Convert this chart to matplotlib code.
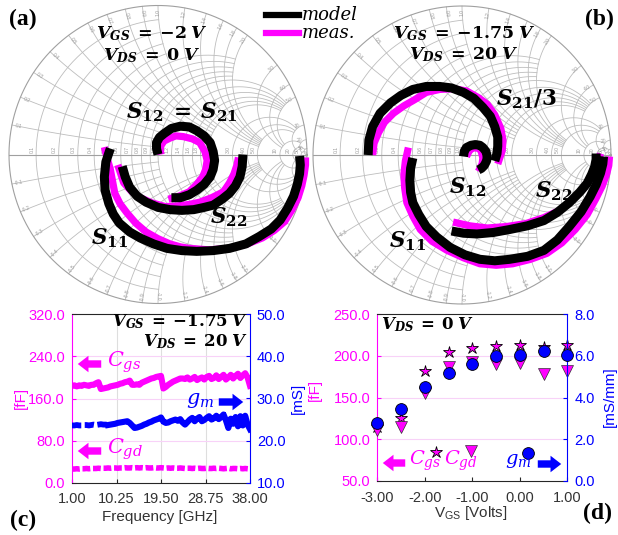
import numpy as np
import matplotlib
matplotlib.use('Agg')
import matplotlib.pyplot as plt

plt.rcParams['mathtext.fontset'] = 'custom'
plt.rcParams['mathtext.rm'] = 'DejaVu Serif'
plt.rcParams['mathtext.it'] = 'DejaVu Serif:italic'
plt.rcParams['mathtext.bf'] = 'DejaVu Serif:bold'
plt.rcParams['mathtext.bfit'] = 'DejaVu Serif:italic:bold'
plt.rcParams['font.family'] = ['Liberation Sans', 'DejaVu Sans']

# ---------------- Smith chart grid (value, extent) ----------------
grid_vals = [50, 20, 10, 5, 4, 3, 2, 1.8, 1.6, 1.4, 1.2, 1.0, 0.9, 0.8, 0.7, 0.6, 0.5, 0.4, 0.3, 0.2, 0.1]
grid_ends = [np.inf, 50, 20, 10, 10, 10, 5, 5, 5, 5, 5, 5, 2, 2, 2, 2, 2, 1, 1, 1, 1]

# ---------------- Panel (a) data: reflection coefficient (Re, Im) ----------------
a_s11_mod_re = [-0.32, -0.35, -0.36, -0.355, -0.33, -0.30, -0.26, -0.19, -0.12, -0.03, 0.06, 0.16, 0.26,
                0.37, 0.48, 0.59, 0.68, 0.76, 0.82, 0.87, 0.91, 0.935, 0.95, 0.955, 0.95]
a_s11_mod_im = [0.04, -0.05, -0.15, -0.24, -0.33, -0.40, -0.46, -0.52, -0.56, -0.60, -0.63, -0.645, -0.65,
                -0.645, -0.63, -0.60, -0.55, -0.50, -0.44, -0.36, -0.28, -0.20, -0.13, -0.07, -0.01]
a_s11_meas_re = [-0.36, -0.34, -0.32, -0.305, -0.29, -0.255, -0.21, -0.15, -0.08, 0.00, 0.08, 0.15, 0.21,
                 0.34, 0.48, 0.60, 0.70, 0.78, 0.85, 0.90, 0.94, 0.965, 0.98, 0.99, 0.99]
a_s11_meas_im = [0.05, -0.03, -0.10, -0.18, -0.26, -0.33, -0.39, -0.46, -0.52, -0.565, -0.60, -0.62, -0.63,
                 -0.64, -0.63, -0.60, -0.56, -0.51, -0.45, -0.37, -0.29, -0.21, -0.14, -0.07, -0.02]

a_s22_mod_re = [-0.24, -0.22, -0.19, -0.14, -0.08, 0.00, 0.08, 0.16, 0.24, 0.31, 0.37, 0.43, 0.48, 0.52,
                0.55, 0.565, 0.57]
a_s22_mod_im = [-0.08, -0.15, -0.22, -0.28, -0.32, -0.355, -0.37, -0.375, -0.37, -0.355, -0.34, -0.30,
                -0.26, -0.21, -0.15, -0.08, 0.00]
a_s22_meas_re = [-0.27, -0.25, -0.23, -0.18, -0.12, -0.04, 0.05, 0.13, 0.21, 0.28, 0.36, 0.44, 0.48, 0.51,
                 0.53, 0.54]
a_s22_meas_im = [-0.07, -0.13, -0.19, -0.245, -0.29, -0.325, -0.35, -0.345, -0.335, -0.32, -0.29, -0.25,
                 -0.19, -0.13, -0.07, -0.02]

a_s12_mod_re = [0.00, -0.01, -0.01, 0.01, 0.04, 0.09, 0.15, 0.21, 0.26, 0.31, 0.35, 0.37, 0.38, 0.37,
                0.35, 0.31, 0.26, 0.21, 0.15, 0.09]
a_s12_mod_im = [0.00, 0.04, 0.08, 0.115, 0.14, 0.175, 0.19, 0.185, 0.16, 0.125, 0.08, 0.02, -0.04, -0.10,
                -0.15, -0.20, -0.24, -0.27, -0.29, -0.29]
a_s12_meas_re = [0.02, 0.015, 0.02, 0.04, 0.08, 0.12, 0.17, 0.23, 0.28, 0.315, 0.33, 0.32, 0.30, 0.26,
                 0.21, 0.14, 0.07]
a_s12_meas_im = [0.00, 0.03, 0.06, 0.09, 0.11, 0.125, 0.12, 0.105, 0.08, 0.02, -0.04, -0.10, -0.15, -0.20,
                 -0.25, -0.28, -0.30]

# ---------------- Panel (b) data ----------------
b_s11_mod_re = [-0.33, -0.345, -0.35, -0.345, -0.33, -0.29, -0.24, -0.17, -0.08, 0.02, 0.12, 0.22, 0.32,
                0.44, 0.55, 0.64, 0.72, 0.80, 0.86, 0.90, 0.93, 0.945, 0.95]
b_s11_mod_im = [-0.02, -0.09, -0.17, -0.25, -0.32, -0.40, -0.48, -0.55, -0.62, -0.67, -0.70, -0.71, -0.70,
                -0.68, -0.64, -0.57, -0.48, -0.38, -0.28, -0.20, -0.12, -0.06, -0.01]
b_s11_meas_re = [-0.36, -0.38, -0.39, -0.385, -0.37, -0.33, -0.28, -0.20, -0.10, 0.01, 0.12, 0.23, 0.34,
                 0.46, 0.57, 0.67, 0.76, 0.84, 0.90, 0.94, 0.97, 0.985, 0.99]
b_s11_meas_im = [0.05, -0.04, -0.13, -0.22, -0.32, -0.41, -0.50, -0.58, -0.64, -0.69, -0.73, -0.74, -0.73,
                 -0.70, -0.66, -0.59, -0.50, -0.40, -0.29, -0.21, -0.13, -0.07, -0.01]

b_s22_mod_re = [-0.07, 0.01, 0.10, 0.21, 0.32, 0.44, 0.55, 0.64, 0.72, 0.79, 0.84, 0.87, 0.89, 0.90, 0.90]
b_s22_mod_im = [-0.51, -0.525, -0.53, -0.52, -0.50, -0.475, -0.44, -0.385, -0.32, -0.25, -0.19, -0.13,
                -0.08, -0.03, 0.01]
b_s22_meas_re = [-0.06, 0.05, 0.17, 0.30, 0.43, 0.55, 0.66, 0.74, 0.81, 0.86, 0.89, 0.915, 0.93]
b_s22_meas_im = [-0.45, -0.475, -0.49, -0.48, -0.46, -0.42, -0.37, -0.30, -0.23, -0.16, -0.10, -0.04, 0.01]

b_s21_mod_re = [-0.63, -0.625, -0.60, -0.55, -0.48, -0.41, -0.33, -0.24, -0.15, -0.07, 0.01, 0.08, 0.14,
                0.19, 0.22, 0.24, 0.24, 0.235, 0.22]
b_s21_mod_im = [0.00, 0.10, 0.19, 0.28, 0.35, 0.40, 0.44, 0.46, 0.46, 0.45, 0.42, 0.38, 0.32, 0.26, 0.19,
                0.12, 0.06, 0.01, -0.04]
b_s21_meas_re = [-0.60, -0.59, -0.56, -0.52, -0.46, -0.39, -0.32, -0.24, -0.15, -0.06, 0.03, 0.11, 0.17,
                 0.22, 0.26, 0.275, 0.27, 0.24]
b_s21_meas_im = [0.00, 0.08, 0.15, 0.22, 0.28, 0.33, 0.37, 0.42, 0.44, 0.445, 0.43, 0.385, 0.34, 0.27,
                 0.18, 0.10, 0.03, -0.06]

b_s12_mod_re = [0.01, 0.015, 0.03, 0.06, 0.09, 0.12, 0.14, 0.16, 0.17, 0.165, 0.15, 0.13, 0.11]
b_s12_mod_im = [-0.01, 0.025, 0.05, 0.065, 0.07, 0.065, 0.05, 0.025, -0.01, -0.04, -0.07, -0.09, -0.10]
b_s12_meas_re = [0.03, 0.04, 0.05, 0.07, 0.09, 0.12, 0.13, 0.14, 0.135, 0.11]
b_s12_meas_im = [-0.01, 0.01, 0.03, 0.045, 0.05, 0.04, 0.02, -0.02, -0.06, -0.11]

# ---------------- Panel (c) data ----------------
freq_ghz = np.arange(1.0, 38.01, 0.5)
cgs_ff = [184, 185, 183, 185, 184, 186, 185, 184, 186, 186,
          189, 191, 178, 179, 180, 181, 183, 184, 185, 186,
          188, 189, 191, 192, 194, 186, 186, 187, 186, 190,
          192, 194, 196, 198, 199, 201, 202, 203, 179, 182,
          186, 189, 192, 194, 196, 198, 198, 197, 200, 196,
          198, 201, 195, 198, 200, 196, 201, 203, 197, 199,
          204, 197, 201, 205, 196, 200, 205, 198, 203, 207,
          199, 204, 208, 200, 184]
gm_ms = [23.6, 23.6, 23.7, 23.6, 23.6, 23.7, 23.7, 23.6, 23.7, 23.8,
         23.7, 23.8, 23.9, 23.8, 23.8, 23.7, 23.8, 23.9, 24.0, 24.2,
         24.3, 24.4, 24.5, 24.6, 24.2, 23.6, 23.0, 23.1, 23.3, 23.5,
         23.8, 24.0, 24.3, 24.5, 24.8, 25.0, 25.2, 25.5, 24.5, 24.2,
         24.3, 24.6, 24.8, 25.0, 24.7, 25.1, 24.3, 23.8, 24.4, 25.0,
         25.4, 24.6, 25.2, 25.6, 24.6, 24.9, 25.4, 25.8, 25.0, 25.3,
         25.9, 25.1, 25.6, 26.2, 24.8, 23.0, 25.2, 24.0, 25.6, 23.4,
         25.8, 23.6, 25.9, 23.8, 22.7]
cgd_ff = [26, 26, 26.5, 26, 26.5, 26.5, 27, 26.5, 27, 27,
          27, 27.5, 27, 27.5, 27.5, 28, 27.5, 28, 28, 27.5,
          28, 28, 28.5, 28, 28, 28.5, 28, 28.5, 28, 28.5,
          28, 28.5, 28, 28, 28.5, 28, 28, 28.5, 28, 27.5,
          28, 27.5, 28, 27.5, 27.5, 28, 27.5, 27, 27.5, 27.5,
          27, 27.5, 27, 27.5, 27, 27, 27.5, 27, 27, 27.5,
          27, 27.5, 27, 26.5, 27, 27.5, 26.5, 27, 27, 26.5,
          27, 26.5, 27, 26.5, 26]
c_xticks = [1.00, 10.25, 19.50, 28.75, 38.00]
c_lticks = [0.0, 80.0, 160.0, 240.0, 320.0]
c_rticks = [10.0, 20.0, 30.0, 40.0, 50.0]

# ---------------- Panel (d) data ----------------
vgs = [-3.0, -2.5, -2.0, -1.5, -1.0, -0.5, 0.0, 0.5, 1.0]
cgs_d = [115, 125, 182, 204, 209, 212, 213, 211, 213]
cgd_d = [111, 115, 155, 186, 193, 190, 191, 178, 182]
gm_d = [2.76, 3.43, 4.52, 5.19, 5.61, 5.99, 6.02, 6.23, 6.02]
d_xticks = [-3.0, -2.0, -1.0, 0.0, 1.0]
d_lticks = [50.0, 100.0, 150.0, 200.0, 250.0]
d_rticks = [0.0, 2.0, 4.0, 6.0, 8.0]

MAG = '#FF00FF'
BLU = '#0000FF'
W, H = 618, 535
fig = plt.figure(figsize=(W / 100, H / 100), dpi=100)


def fp(x, y):
    return x / W, 1 - y / H


def vlabel(sub, val):
    return (r'$\mathbfit{V}_{\mathbfit{' + sub + r'}}\;\mathbf{=}\;\mathbf{' + val +
            r'}\;\mathbfit{V}$')


def smith_axes(cx, cy, R):
    half = 1.05 * R
    ax = fig.add_axes([(cx - half) / W, (H - cy - half) / H, 2 * half / W, 2 * half / H])
    ax.set_xlim(-1.05, 1.05)
    ax.set_ylim(-1.05, 1.05)
    ax.axis('off')
    ax.patch.set_visible(False)
    gc = '#bdbdbd'
    for v, e in zip(grid_vals, grid_ends):
        ee = 1e4 if np.isinf(e) else e
        pos = np.geomspace(1e-3, ee, 300)
        xs = np.concatenate([-pos[::-1], [0.0], pos])
        g = (v + 1j * xs - 1) / (v + 1j * xs + 1)
        ax.plot(g.real, g.imag, color=gc, lw=0.6, zorder=1)
        rs = np.concatenate([[0.0], pos])
        for s in (1, -1):
            z = rs + 1j * s * v
            g = (z - 1) / (z + 1)
            ax.plot(g.real, g.imag, color=gc, lw=0.6, zorder=1)
        lab = ('%d' % v) if v >= 10 else ('%.1f' % v)
        gr = (v - 1) / (v + 1)
        ax.text(gr - 0.012, 0.012, lab, rotation=90, ha='right', va='bottom',
                fontsize=3.6, color='#9a9a9a', zorder=2)
        for s in (1, -1):
            z = 1j * s * v
            g = (z - 1) / (z + 1)
            rot = np.degrees(np.angle(g))
            if rot > 90:
                rot -= 180
            if rot < -90:
                rot += 180
            labx = lab if s > 0 else '-' + lab
            ax.text(0.955 * g.real, 0.955 * g.imag, labx, rotation=rot, ha='center',
                    va='center', fontsize=3.6, color='#9a9a9a', zorder=2)
    t = np.linspace(0, 2 * np.pi, 500)
    ax.plot(np.cos(t), np.sin(t), color='#a0a0a0', lw=0.8, zorder=1)
    ax.plot([-1, 1], [0, 0], color='#a0a0a0', lw=0.8, zorder=1)
    return ax


def curve(ax, re_m, im_m, re_x, im_x):
    ax.plot(re_x, im_x, color=MAG, lw=5.2, solid_capstyle='butt', solid_joinstyle='round', zorder=3)
    ax.plot(re_m, im_m, color='black', lw=6.5, solid_capstyle='butt', solid_joinstyle='round', zorder=4)


# ---- (a) ----
axa = smith_axes(158, 154.5, 149)
curve(axa, a_s11_mod_re, a_s11_mod_im, a_s11_meas_re, a_s11_meas_im)
curve(axa, a_s22_mod_re, a_s22_mod_im, a_s22_meas_re, a_s22_meas_im)
curve(axa, a_s12_mod_re, a_s12_mod_im, a_s12_meas_re, a_s12_meas_im)

# ---- (b) ----
axb = smith_axes(462, 155, 149)
curve(axb, b_s11_mod_re, b_s11_mod_im, b_s11_meas_re, b_s11_meas_im)
curve(axb, b_s22_mod_re, b_s22_mod_im, b_s22_meas_re, b_s22_meas_im)
curve(axb, b_s21_mod_re, b_s21_mod_im, b_s21_meas_re, b_s21_meas_im)
curve(axb, b_s12_mod_re, b_s12_mod_im, b_s12_meas_re, b_s12_meas_im)


def stext(x, y, s, fs, ha='center', color='black'):
    fig.text(*fp(x, y), s, ha=ha, va='center', fontsize=fs, color=color)


stext(152, 34, vlabel('GS', '-2'), 12.5)
stext(152, 56, vlabel('DS', '0'), 12.5)
stext(464, 34, vlabel('GS', '-1.75'), 12.5)
stext(464, 55, vlabel('DS', '20'), 12.5)
stext(182, 112, r'$\mathbfit{S}_{\mathbf{12}}\;\mathbf{=}\;\mathbfit{S}_{\mathbf{21}}$', 15.5)
stext(229, 217, r'$\mathbfit{S}_{\mathbf{22}}$', 15.5)
stext(110, 238, r'$\mathbfit{S}_{\mathbf{11}}$', 15.5)
stext(526, 99, r'$\mathbfit{S}_{\mathbf{21}}\mathbf{/3}$', 15.5)
stext(468, 187, r'$\mathbfit{S}_{\mathbf{12}}$', 15.5)
stext(554, 191, r'$\mathbfit{S}_{\mathbf{22}}$', 15.5)
stext(408, 241, r'$\mathbfit{S}_{\mathbf{11}}$', 15.5)

# legend
fig.add_artist(plt.Line2D([266 / W, 299 / W], [1 - 15 / H, 1 - 15 / H], color='black', lw=4.5))
fig.add_artist(plt.Line2D([266 / W, 299 / W], [1 - 33 / H, 1 - 33 / H], color=MAG, lw=4.5))
fig.text(*fp(302, 15), 'model', ha='left', va='center', fontsize=13, family='DejaVu Serif', style='italic')
fig.text(*fp(302, 33), 'meas.', ha='left', va='center', fontsize=13, family='DejaVu Serif', style='italic')

# panel letters
for lab, x, y in [('(a)', 23, 19), ('(b)', 599, 19), ('(c)', 23, 520), ('(d)', 598, 513)]:
    fig.text(*fp(x, y), lab, ha='center', va='center', fontsize=17, fontweight='bold',
             family='Liberation Serif')

TFS = 10.5


def style_twin(ax, ax2):
    ax.tick_params(axis='y', colors=MAG, direction='in', length=3, labelsize=TFS, pad=5)
    ax.tick_params(axis='x', colors='#262626', direction='in', length=3, labelsize=TFS, pad=7)
    ax.tick_params(axis='x', labelcolor='#333333')
    ax2.tick_params(axis='y', colors=BLU, direction='in', length=3, labelsize=TFS, pad=5)
    ax.spines['left'].set_color(MAG)
    ax.spines['right'].set_visible(False)
    ax.spines['top'].set_color('#262626')
    ax.spines['bottom'].set_color('#262626')
    ax2.spines['right'].set_color(BLU)
    for s in ('left', 'top', 'bottom'):
        ax2.spines[s].set_visible(False)


def arrow(x0, y0, x1, y1, color):
    fig.add_artist(matplotlib.patches.FancyArrowPatch(
        (x0, H - y0), (x1, H - y1), transform=None,
        arrowstyle='simple,head_length=0.55,head_width=0.85,tail_width=0.38',
        mutation_scale=14, color=color, lw=0))


# ---- (c) ----
axc = fig.add_axes([72 / W, (H - 482.7) / H, 178 / W, 168.4 / H])
axc.set_xlim(1, 38)
axc.set_ylim(0, 320)
axc.set_xticks(c_xticks)
axc.set_xticklabels(['%.2f' % v for v in c_xticks])
axc.set_yticks(c_lticks)
axc.set_yticklabels(['%.1f' % v for v in c_lticks])
for xv in c_xticks[1:-1]:
    axc.axvline(xv, color='#dedede', lw=0.8, zorder=0)
for yv in c_lticks[1:-1]:
    axc.axhline(yv, color='#f8d2f8', lw=0.8, zorder=0)
axc.plot(freq_ghz, cgs_ff, color=MAG, lw=4.4, marker='s', ms=2.5, mew=0, zorder=3)
axc.plot(freq_ghz, cgd_ff, color=MAG, lw=4.0, ls=(0, (1.4, 0.5)), zorder=3)
axc2 = axc.twinx()
axc2.set_ylim(10, 50)
axc2.set_yticks(c_rticks)
axc2.set_yticklabels(['%.1f' % v for v in c_rticks])
axc2.plot(freq_ghz[:16], gm_ms[:16], color=BLU, lw=4.2, ls=(0, (1.6, 0.6)), zorder=3)
axc2.plot(freq_ghz[15:], gm_ms[15:], color=BLU, lw=4.4, marker='s', ms=2.5, mew=0, zorder=3)
style_twin(axc, axc2)
fig.text(*fp(160, 517), 'Frequency [GHz]', ha='center', va='center', fontsize=11, color='#333333')
fig.text(*fp(21, 398), '[fF]', ha='center', va='center', fontsize=11, color=MAG, rotation=90)
fig.text(*fp(298, 398), '[mS]', ha='center', va='center', fontsize=11, color=BLU, rotation=90)
fig.text(*fp(248, 322), vlabel('GS', '-1.75'), ha='right', va='center', fontsize=12)
fig.text(*fp(248, 342), vlabel('DS', '20'), ha='right', va='center', fontsize=12)
arrow(104, 364, 75, 364, MAG)
fig.text(*fp(107, 362), r'$C_{gs}$', ha='left', va='center', fontsize=15, color=MAG)
arrow(104, 451, 75, 451, MAG)
fig.text(*fp(107, 449), r'$C_{gd}$', ha='left', va='center', fontsize=15, color=MAG)
fig.text(*fp(214, 400), r'$g_{m}$', ha='right', va='center', fontsize=15, color=BLU)
arrow(216, 402, 246, 402, BLU)

# ---- (d) ----
axd = fig.add_axes([377.3 / W, (H - 481) / H, 190 / W, 167 / H])
axd.set_xlim(-3, 1)
axd.set_ylim(50, 250)
axd.set_xticks(d_xticks)
axd.set_xticklabels(['%.2f' % v for v in d_xticks])
axd.set_yticks(d_lticks)
axd.set_yticklabels(['%.1f' % v for v in d_lticks])
for yv in d_lticks[1:-1]:
    axd.axhline(yv, color='#f8d2f8', lw=0.8, zorder=0)
axd.plot(vgs, cgs_d, ls='none', marker='*', ms=9, mfc=MAG, mec='black', mew=0.6, zorder=3, clip_on=False)
axd.plot(vgs, cgd_d, ls='none', marker='v', ms=9, mfc=MAG, mec='#333333', mew=0.5, zorder=4, clip_on=False)
axd2 = axd.twinx()
axd2.set_ylim(0, 8)
axd2.set_yticks(d_rticks)
axd2.set_yticklabels(['%.1f' % v for v in d_rticks])
axd2.plot(vgs, gm_d, ls='none', marker='o', ms=8.5, mfc=BLU, mec='black', mew=0.6, zorder=3, clip_on=False)
style_twin(axd, axd2)
axd.plot([0.31], [0.172], transform=axd.transAxes, marker='*', ms=9, mfc=MAG, mec='black', mew=0.6, ls='none')
axd.plot([0.495], [0.18], transform=axd.transAxes, marker='v', ms=9, mfc=MAG, mec='#333333', mew=0.5, ls='none')
axd2.plot([0.793], [0.17], transform=axd2.transAxes, marker='o', ms=8.5, mfc=BLU, mec='black', mew=0.6, ls='none')
fig.text(*fp(471, 513), r'V$_{\mathregular{GS}}$ [Volts]', ha='center', va='center', fontsize=11, color='#333333')
fig.text(*fp(315, 390), '[fF]', ha='center', va='center', fontsize=11, color=MAG, rotation=90)
fig.text(*fp(610, 397), '[mS/mm]', ha='center', va='center', fontsize=11, color=BLU, rotation=90)
fig.text(*fp(381, 325), vlabel('DS', '0'), ha='left', va='center', fontsize=12)
arrow(408, 463, 380, 463, MAG)
fig.text(*fp(425, 461), r'$C_{gs}$', ha='center', va='center', fontsize=14, color=MAG)
fig.text(*fp(461, 461), r'$C_{gd}$', ha='center', va='center', fontsize=14, color=MAG)
fig.text(*fp(518, 461), r'$g_{m}$', ha='center', va='center', fontsize=14, color=BLU)
arrow(535, 464, 564, 464, BLU)

fig.savefig('out.png', dpi=100)
